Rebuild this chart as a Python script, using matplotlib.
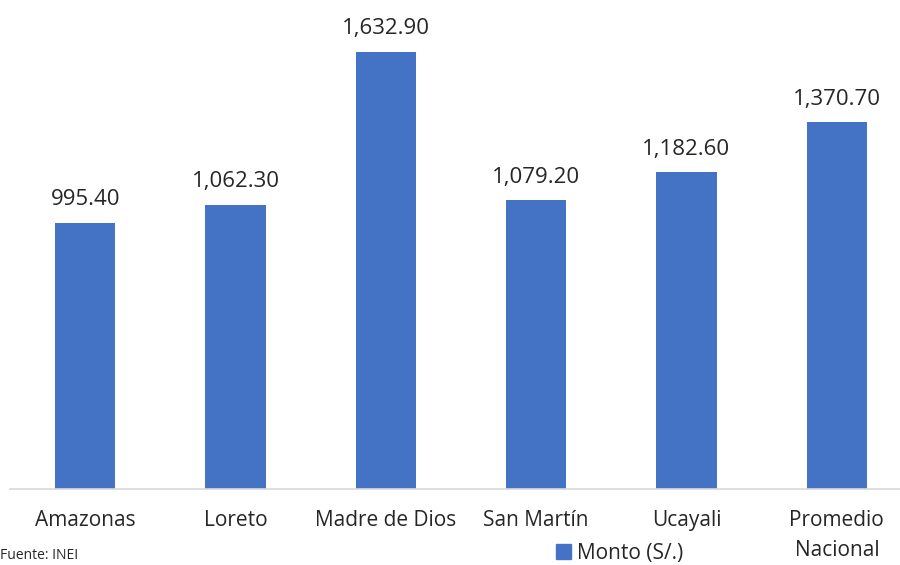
import matplotlib.pyplot as plt
from matplotlib.patches import Patch

regiones = ["Amazonas", "Loreto", "Madre de Dios", "San Martín", "Ucayali", "Promedio\nNacional"]
monto = [995.40, 1062.30, 1632.90, 1079.20, 1182.60, 1370.70]

plt.rcParams["font.family"] = ["Open Sans", "DejaVu Sans"]

fig = plt.figure(figsize=(9.0, 5.65), dpi=100)
ax = fig.add_axes([10 / 900, 76 / 565, 902 / 900, 489 / 565])

x = range(len(regiones))
barras = ax.bar(x, monto, width=0.4, color="#4472C4")
ax.bar_label(barras, labels=[f"{v:,.2f}" for v in monto], padding=9,
             fontsize=16, color="#262626")

ax.set_xlim(-0.5, len(regiones) - 0.5)
ax.set_ylim(0, 1827)
ax.set_xticks(list(x))
ax.set_xticklabels(regiones, fontsize=15, color="#262626", linespacing=1.55)
ax.tick_params(axis="x", length=0, pad=15)
ax.set_yticks([])
for lado in ["top", "right", "left"]:
    ax.spines[lado].set_visible(False)
ax.spines["bottom"].set_color("#D9D9D9")
ax.spines["bottom"].set_linewidth(1.2)

# leyenda y fuente pegadas al borde inferior, pero sin cortarse
fig.legend(handles=[Patch(color="#4472C4", label="Monto (S/.)")],
           loc="lower center", bbox_to_anchor=(620 / 900, 1 / 565), frameon=False,
           fontsize=15, handlelength=0.7, handleheight=0.7, handletextpad=0.3,
           labelcolor="#262626", borderpad=0.0, borderaxespad=0.0)

fig.text(0.0, 2 / 565, "Fuente: INEI", fontsize=10, color="#262626",
         ha="left", va="bottom")

fig.savefig("out.png", dpi=100)
